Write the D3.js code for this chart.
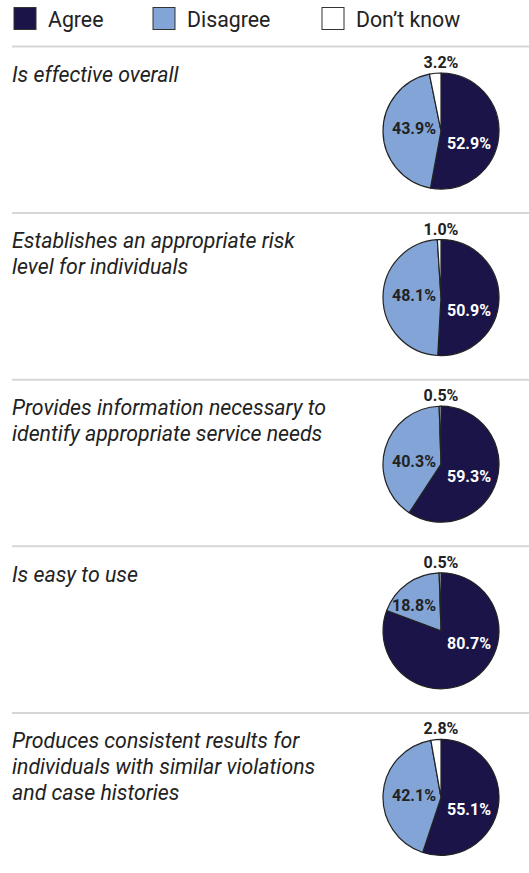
<!DOCTYPE html>
<html><head><meta charset="utf-8">
<script src="https://cdn.jsdelivr.net/npm/d3@7"></script>
<style>body{margin:0;background:#fff;} svg{display:block;font-family:Roboto,"Noto Sans",sans-serif;}</style>
</head><body>
<svg id="chart" width="529" height="873"></svg>
<script>
const categories = ["Agree", "Disagree", "Don\u2019t know"];
const questions = [
  ["Is effective overall"],
  ["Establishes an appropriate risk", "level for individuals"],
  ["Provides information necessary to", "identify appropriate service needs"],
  ["Is easy to use"],
  ["Produces consistent results for", "individuals with similar violations", "and case histories"]
];
const agree = [52.9, 50.9, 59.3, 80.7, 55.1];
const disagree = [43.9, 48.1, 40.3, 18.8, 42.1];
const dontKnow = [3.2, 1.0, 0.5, 0.5, 2.8];
const colors = ["#1a1448", "#82a4d6", "#ffffff"];

const svg = d3.select("#chart");
const color = d3.scaleOrdinal().domain(categories).range(colors);

// Legend
const legendX = [14, 153, 322];
categories.forEach((c, i) => {
  svg.append("rect").attr("x", legendX[i]).attr("y", 7.5).attr("width", 22).attr("height", 22)
    .attr("fill", color(c)).attr("stroke", "#333").attr("stroke-width", 1);
  svg.append("text").attr("x", legendX[i] + 34).attr("y", 26.5).attr("font-size", 21.3)
    .attr("fill", "#222").text(c);
});

const rowTop = 46.5, rowH = 166.6, r = 58, cx = 441;
const pie = d3.pie().sort(null).value(d => d.v);
const arc = d3.arc().innerRadius(0).outerRadius(r);
const labelArc = d3.arc().innerRadius(r * 0.55).outerRadius(r * 0.55);
const fmt = v => v.toFixed(1) + "%";

questions.forEach((q, i) => {
  const y0 = rowTop + i * rowH;
  svg.append("line").attr("x1", 12).attr("x2", 529).attr("y1", y0).attr("y2", y0)
    .attr("stroke", "#d6d6d6").attr("stroke-width", 2);
  q.forEach((line, j) => {
    svg.append("text").attr("x", 12).attr("y", y0 + 35.3 + j * 25.8).attr("font-size", 21.3)
      .attr("font-style", "italic").attr("fill", "#222").text(line);
  });
  const cy = y0 + 84.5;
  const data = [
    {k: categories[0], v: agree[i]},
    {k: categories[1], v: disagree[i]},
    {k: categories[2], v: dontKnow[i]}
  ];
  const arcs = pie(data);
  const g = svg.append("g").attr("transform", `translate(${cx},${cy})`);
  g.selectAll("path").data(arcs).join("path")
    .attr("d", arc).attr("fill", d => color(d.data.k))
    .attr("stroke", "#222").attr("stroke-width", 1.2).attr("stroke-linejoin", "round");
  // Agree label
  g.append("text").attr("x", 28).attr("y", 18).attr("text-anchor", "middle")
    .attr("font-size", 16).attr("font-weight", "bold").attr("fill", "#fff").text(fmt(agree[i]));
  // Disagree label: level with centre if slice spans the left side, else at slice centroid height
  const dA = arcs[1];
  const coversLeft = dA.startAngle <= 1.5 * Math.PI && dA.endAngle >= 1.5 * Math.PI;
  const ly = coversLeft ? -2.7 : labelArc.centroid(dA)[1];
  g.append("text").attr("x", -27).attr("y", ly + 5.8).attr("text-anchor", "middle")
    .attr("font-size", 16).attr("font-weight", "bold").attr("fill", "#222").text(fmt(disagree[i]));
  // Don't know label above pie
  g.append("text").attr("x", 0).attr("y", -r - 5).attr("text-anchor", "middle")
    .attr("font-size", 16).attr("font-weight", "bold").attr("fill", "#222").text(fmt(dontKnow[i]));
});
</script>
</body></html>
